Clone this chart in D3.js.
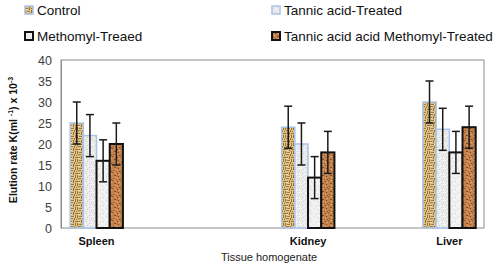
<!DOCTYPE html>
<html>
<head>
<meta charset="utf-8">
<script src="https://cdn.jsdelivr.net/npm/d3@7"></script>
<style>
  body { margin: 0; background: #fff; }
  svg { font-family: Arial, "Liberation Sans", sans-serif; }
</style>
</head>
<body>
<div id="chart"></div>
<script>
// data
const TISSUES = ['Spleen', 'Kidney', 'Liver'];
const SERIES = ['Control', 'Tannic acid-Treated', 'Methomyl-Treaed', 'Tannic acid acid Methomyl-Treated'];
const CONTROL   = [25, 24, 30];
const TANNIC    = [22, 20, 23.5];
const METHOMYL  = [16, 12, 18];
const COMBINED  = [20, 18, 24];
const ERR       = [5, 5, 5, 5];
const Y_TICKS   = [0, 5, 10, 15, 20, 25, 30, 35, 40];

// groups are not evenly spaced in the original
const GROUP_POS = [0.084, 0.584, 0.918];

const W = 500, H = 265;
const margin = { top: 60, right: 16, bottom: 37, left: 61 };
const w = W - margin.left - margin.right;
const h = H - margin.top - margin.bottom;

const svg = d3.select('#chart').append('svg').attr('width', W).attr('height', H);
const defs = svg.append('defs');

// textures
function texture(id, base, dots, dotColor, size) {
  const p = defs.append('pattern').attr('id', id)
    .attr('patternUnits', 'userSpaceOnUse').attr('width', size).attr('height', size);
  p.append('rect').attr('width', size).attr('height', size).attr('fill', base);
  for (const [x, y, dw, dh, c] of dots) {
    p.append('rect').attr('x', x).attr('y', y).attr('width', dw).attr('height', dh)
      .attr('fill', c || dotColor);
  }
}
texture('pat-control', '#dcc085', [
  [0, 1, 3, 1], [4, 0, 1, 3], [6, 1, 2, 1], [0, 3, 1, 3], [2, 4, 3, 1], [6, 3, 1, 3],
  [1, 6, 3, 1], [5, 6, 1, 2], [7, 7, 1, 1],
  [1, 2, 2, 1, '#f0dfb4'], [5, 4, 1, 1, '#f0dfb4'], [2, 5, 2, 1, '#f0dfb4'],
], '#9a7535', 8);
texture('pat-tannic', '#ececec', [
  [1, 1, 1, 1], [4, 3, 1, 1], [2, 5, 1, 1], [6, 6, 1, 1], [5, 0, 1, 1], [0, 7, 1, 1],
  [3, 2, 1, 1, '#ffffff'], [6, 4, 1, 1, '#ffffff'], [0, 4, 1, 1, '#fafafa'],
], '#cfcfcf', 8);
texture('pat-methomyl', '#f0f0f0', [
  [2, 1, 1, 1], [5, 4, 1, 1], [1, 6, 1, 1], [7, 2, 1, 1],
  [4, 0, 1, 1, '#ffffff'], [0, 3, 1, 1, '#ffffff'], [6, 7, 1, 1, '#ffffff'],
], '#d6d6d6', 8);
texture('pat-combined', '#c4834c', [
  [0, 1, 1, 1], [3, 0, 1, 1], [5, 3, 2, 1], [1, 4, 1, 1], [4, 6, 1, 1], [7, 7, 1, 1], [2, 7, 1, 1],
  [2, 2, 1, 1, '#e3ad7c'], [6, 5, 1, 1, '#e3ad7c'], [0, 6, 1, 1, '#e3ad7c'], [6, 0, 1, 1, '#e3ad7c'],
], '#7f4a28', 8);

const STYLE = [
  { fill: 'url(#pat-control)',  stroke: '#a9c4eb', sw: 1.5 },
  { fill: 'url(#pat-tannic)',   stroke: '#a9c4eb', sw: 1.5 },
  { fill: 'url(#pat-methomyl)', stroke: '#111',    sw: 2 },
  { fill: 'url(#pat-combined)', stroke: '#111',    sw: 2 },
];
const VALUES = [CONTROL, TANNIC, METHOMYL, COMBINED];

const g = svg.append('g').attr('transform', `translate(${margin.left},${margin.top})`);

const y = d3.scaleLinear().domain([0, 40]).range([h, 0]);
const groupX = d3.scaleOrdinal().domain(TISSUES).range(GROUP_POS.map(f => f * w));
const barW = 13.2;
const inner = d3.scaleBand().domain(SERIES).range([-2 * barW, 2 * barW]);

// plot frame
g.append('rect').attr('width', w).attr('height', h)
  .attr('fill', 'none').attr('stroke', '#8c8c8c').attr('stroke-width', 1);

// y axis
const yAxis = g.append('g').call(d3.axisLeft(y).tickValues(Y_TICKS).tickSize(0).tickPadding(9));
yAxis.select('.domain').attr('stroke', '#8c8c8c');
yAxis.selectAll('text').attr('font-size', 12.5).attr('fill', '#404040')
  .attr('font-family', 'Arial, "Liberation Sans", sans-serif');

// bars
const rows = [];
TISSUES.forEach((t, i) => SERIES.forEach((s, j) => rows.push({ t, s, j, v: VALUES[j][i], e: ERR[j] })));

g.append('g').selectAll('rect').data(rows).join('rect')
  .attr('x', d => groupX(d.t) + inner(d.s))
  .attr('y', d => y(d.v))
  .attr('width', inner.bandwidth())
  .attr('height', d => h - y(d.v))
  .attr('fill', d => STYLE[d.j].fill)
  .attr('stroke', d => STYLE[d.j].stroke)
  .attr('stroke-width', d => STYLE[d.j].sw);

// error bars
const eb = g.append('g').selectAll('g').data(rows).join('g')
  .attr('transform', d => `translate(${groupX(d.t) + inner(d.s) + inner.bandwidth() / 2},0)`)
  .attr('stroke', '#1a1a1a').attr('stroke-width', 1.5);
eb.append('line').attr('y1', d => y(d.v + d.e)).attr('y2', d => y(d.v - d.e));
eb.append('line').attr('x1', -4).attr('x2', 4).attr('y1', d => y(d.v + d.e)).attr('y2', d => y(d.v + d.e));
eb.append('line').attr('x1', -4).attr('x2', 4).attr('y1', d => y(d.v - d.e)).attr('y2', d => y(d.v - d.e));

// category labels
g.append('g').selectAll('text').data(TISSUES).join('text')
  .attr('x', d => groupX(d)).attr('y', h + 17)
  .attr('text-anchor', 'middle').attr('font-size', 11).attr('font-weight', 'bold')
  .attr('fill', '#111').text(d => d);

// axis titles
svg.append('text').attr('x', margin.left + 208).attr('y', 261)
  .attr('text-anchor', 'middle').attr('font-size', 11).attr('fill', '#222')
  .text('Tissue homogenate');

const yt = svg.append('text')
  .attr('transform', `translate(17,${margin.top + 80}) rotate(-90)`)
  .attr('text-anchor', 'middle').attr('font-size', 10.5).attr('font-weight', 'bold').attr('fill', '#111');
yt.append('tspan').text('Elution rate K(ml ');
yt.append('tspan').attr('font-size', 7).attr('dy', -4).text('-1');
yt.append('tspan').attr('dy', 4).text(') x 10');
yt.append('tspan').attr('font-size', 7).attr('dy', -4).text('-3');

// legend
const legendPos = [[25, 15], [272, 15], [25, 41], [272, 41]];
const lg = svg.append('g').selectAll('g').data(SERIES).join('g')
  .attr('transform', (d, i) => `translate(${legendPos[i][0]},${legendPos[i][1]})`);
lg.append('rect').attr('x', 0).attr('y', -9).attr('width', 8).attr('height', 8)
  .attr('fill', (d, i) => STYLE[i].fill)
  .attr('stroke', (d, i) => STYLE[i].stroke)
  .attr('stroke-width', (d, i) => STYLE[i].sw);
lg.append('text').attr('x', 12).attr('font-size', 13.5).attr('fill', '#111').text(d => d);
</script>
</body>
</html>
